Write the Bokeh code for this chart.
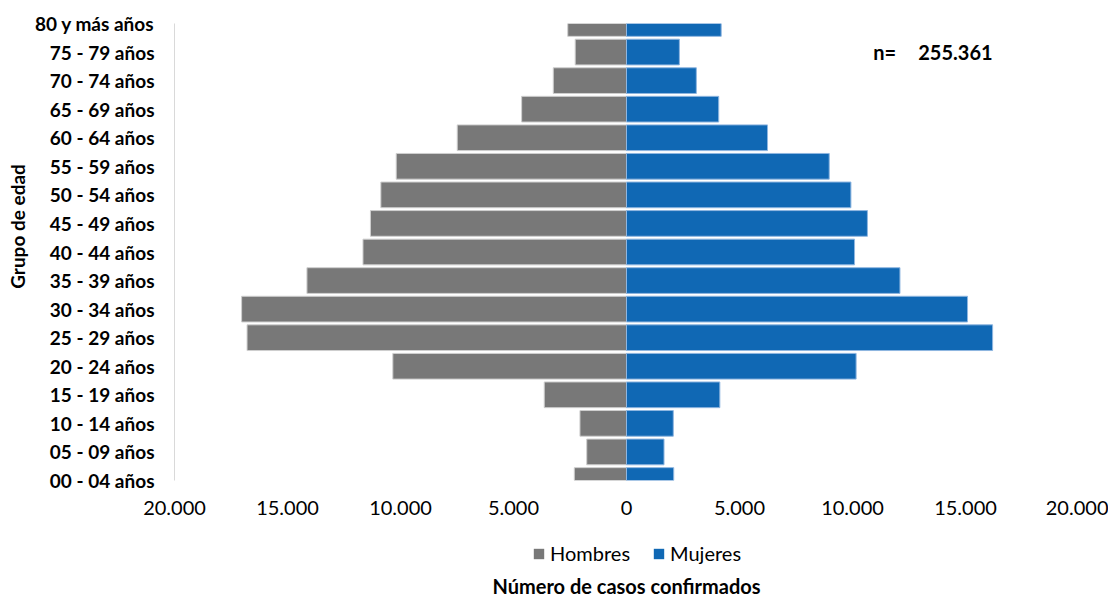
import math
from bokeh.plotting import figure
from bokeh.layouts import column, row
from bokeh.models import Range1d, FixedTicker, Legend, LegendItem, Label, ColumnDataSource
from bokeh.embed import file_html
from bokeh.resources import INLINE

grupos = ["00 - 04 años", "05 - 09 años", "10 - 14 años", "15 - 19 años", "20 - 24 años",
          "25 - 29 años", "30 - 34 años", "35 - 39 años", "40 - 44 años", "45 - 49 años",
          "50 - 54 años", "55 - 59 años", "60 - 64 años", "65 - 69 años", "70 - 74 años",
          "75 - 79 años", "80 y más años"]
hombres = [2310, 1760, 2060, 3640, 10340, 16790, 17030, 14140, 11660, 11330,
           10870, 10190, 7490, 4640, 3240, 2270, 2600]
mujeres = [2090, 1660, 2070, 4130, 10160, 16200, 15090, 12100, 10090, 10660,
           9930, 8970, 6240, 4080, 3090, 2340, 4190]
x_ticks = [-20000, -15000, -10000, -5000, 0, 5000, 10000, 15000, 20000]
series = ["Hombres", "Mujeres"]
n_total = "255.361"
x_title = "Número de casos confirmados"
y_title = "Grupo de edad"

FONT = "Lato"
FS = "20px"
GRAY = "#787878"
BLUE = "#1068B4"

pos = list(range(len(grupos)))
src = ColumnDataSource(dict(
    y=pos,
    h_left=[-v for v in hombres],
    m_right=mujeres,
))

TITLE_W = 30
p = figure(frame_width=904, frame_height=457, output_backend="svg", toolbar_location=None,
           x_range=Range1d(-20000, 20000), y_range=Range1d(0, len(grupos) - 1),
           min_border_left=174 - TITLE_W, min_border_right=30, min_border_top=23,
           min_border_bottom=0, outline_line_color=None)
p.xgrid.grid_line_color = None
p.ygrid.grid_line_color = None

p.hbar(y="y", left="h_left", right=0, height=0.9, source=src,
       fill_color=GRAY, line_color="#cfcfcf", line_width=1)
p.hbar(y="y", left=0, right="m_right", height=0.9, source=src,
       fill_color=BLUE, line_color="#8fb6e0", line_width=1)

# x axis
p.xaxis.ticker = FixedTicker(ticks=x_ticks)
p.xaxis.major_label_overrides = {t: f"{abs(t):,}".replace(",", ".") for t in x_ticks}
p.xaxis.axis_line_color = None
p.xaxis.major_tick_line_color = None
p.xaxis.minor_tick_line_color = None
p.xaxis.major_tick_out = 0
p.xaxis.major_tick_in = 0
p.xaxis.minor_tick_out = 0
p.xaxis.major_label_text_font = FONT
p.xaxis.major_label_text_font_size = FS
p.xaxis.major_label_text_color = "#000000"
p.xaxis.major_label_standoff = 20

# y axis
p.yaxis.ticker = FixedTicker(ticks=pos)
p.yaxis.major_label_overrides = {i: g for i, g in enumerate(grupos)}
p.yaxis.axis_line_color = "#d9d9d9"
p.yaxis.axis_line_width = 1
p.yaxis.major_tick_line_color = None
p.yaxis.minor_tick_line_color = None
p.yaxis.major_tick_out = 0
p.yaxis.major_tick_in = 0
p.yaxis.minor_tick_out = 0
p.yaxis.major_label_text_font = FONT
p.yaxis.major_label_text_font_style = "bold"
p.yaxis.major_label_text_font_size = "19px"
p.yaxis.major_label_text_color = "#000000"
p.yaxis.major_label_standoff = 20

p.add_layout(Label(x=10920, y=len(grupos) - 2, text="n=",
                   text_font=FONT, text_font_style="bold", text_font_size=FS,
                   text_color="#000000", text_baseline="middle", text_align="left"))
p.add_layout(Label(x=12910, y=len(grupos) - 2, text=n_total,
                   text_font=FONT, text_font_style="bold", text_font_size=FS,
                   text_color="#000000", text_baseline="middle", text_align="left"))

# legend + x title strip (bars here use the same data but lie outside this strip's range)
H2 = 82
Y0 = 100
p2 = figure(frame_width=904, frame_height=H2, output_backend="svg", toolbar_location=None,
            x_range=p.x_range, y_range=Range1d(Y0, Y0 + H2),
            x_axis_location=None, y_axis_location=None,
            min_border_left=174 - TITLE_W, min_border_right=30, min_border_top=0,
            min_border_bottom=0, outline_line_color=None)
p2.xgrid.grid_line_color = None
p2.ygrid.grid_line_color = None
dh = p2.hbar(y="y", left="h_left", right=0, height=0.9, source=src,
             fill_color=GRAY, line_color=None)
dm = p2.hbar(y="y", left=0, right="m_right", height=0.9, source=src,
             fill_color=BLUE, line_color=None)
legend = Legend(items=[LegendItem(label=series[0], renderers=[dh]),
                       LegendItem(label=series[1], renderers=[dm])],
                orientation="horizontal", location=(358, 34),
                label_text_font=FONT, label_text_font_size=FS, label_text_color="#000000",
                glyph_width=13, glyph_height=13, spacing=22, label_standoff=5,
                border_line_color=None, background_fill_alpha=0,
                padding=2, margin=0)
p2.add_layout(legend, "center")
p2.add_layout(Label(x=0, y=Y0 + 14, text=x_title, text_font=FONT, text_font_style="bold",
                    text_font_size=FS, text_color="#000000",
                    text_baseline="middle", text_align="center"))

# y-axis title strip
TOTAL_H = 598
pt = figure(frame_width=TITLE_W, frame_height=TOTAL_H, output_backend="svg",
            toolbar_location=None, x_range=Range1d(0, TITLE_W), y_range=Range1d(0, TOTAL_H),
            x_axis_location=None, y_axis_location=None,
            min_border_left=0, min_border_right=0, min_border_top=0, min_border_bottom=0,
            outline_line_color=None)
pt.xgrid.grid_line_color = None
pt.ygrid.grid_line_color = None
pt.add_layout(Label(x=17, y=TOTAL_H - 226, text=y_title, angle=math.pi / 2,
                    text_font=FONT, text_font_style="bold", text_font_size="19px",
                    text_color="#000000", text_baseline="middle", text_align="center"))

open("out.html", "w").write(file_html(row(pt, column(p, p2, spacing=0), spacing=0), INLINE))
